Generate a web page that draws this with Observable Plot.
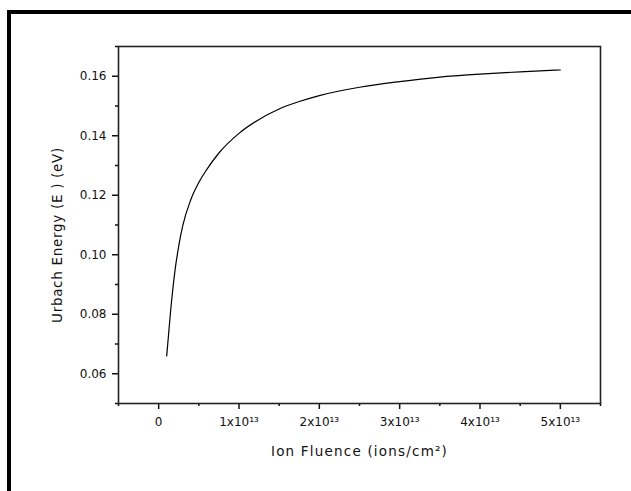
<!DOCTYPE html>
<html><head><meta charset="utf-8">
<script src="https://cdn.jsdelivr.net/npm/d3@7"></script>
<script src="https://cdn.jsdelivr.net/npm/@observablehq/plot@0.6"></script>
<style>
html,body{margin:0;padding:0;background:#fff;overflow:hidden;}
#wrap{position:relative;width:631px;height:491px;overflow:hidden;}
#border{position:absolute;left:7px;top:10px;width:700px;height:600px;border-left:4px solid #000;border-top:4px solid #000;pointer-events:none;}
</style></head><body>
<div id="wrap"><div id="chart"></div><div id="border"></div></div>
<script>
// Data (fluence in ions/cm², Urbach energy in eV)
const fluence = [0.1e13, 0.15e13, 0.2e13, 0.25e13, 0.3e13, 0.4e13, 0.5e13, 0.6e13, 0.75e13, 1.0e13, 1.25e13, 1.5e13, 1.75e13, 2.0e13, 2.5e13, 3.0e13, 3.5e13, 4.0e13, 4.5e13, 5.0e13];
const urbach  = [0.066, 0.0815, 0.0940, 0.1030, 0.1098, 0.1185, 0.1243, 0.1287, 0.1342, 0.1408, 0.1455, 0.1490, 0.1515, 0.1535, 0.1563, 0.1582, 0.1597, 0.1607, 0.1615, 0.1621];

const xMajorTicks = [0, 1e13, 2e13, 3e13, 4e13, 5e13];
const xMinorTicks = [-0.5e13, 0.5e13, 1.5e13, 2.5e13, 3.5e13, 4.5e13, 5.5e13];
const yMajorTicks = [0.06, 0.08, 0.10, 0.12, 0.14, 0.16];
const yMinorTicks = [0.05, 0.07, 0.09, 0.11, 0.13, 0.15, 0.17];
const xTitle = "Ion Fluence (ions/cm²)";
const yTitle = "Urbach Energy (E ) (eV)";

const data = fluence.map((x, i) => ({x, y: urbach[i]}));
const fmtX = d => d === 0 ? "0" : `${Math.round(d / 1e13)}x10¹³`;

const plot = Plot.plot({
  width: 631, height: 491,
  marginLeft: 118, marginRight: 31, marginTop: 46, marginBottom: 88,
  style: {fontFamily: "'DejaVu Sans', sans-serif", fontSize: "12px", color: "#111", background: "#fff"},
  x: {domain: [-0.5e13, 5.5e13]},
  y: {domain: [0.05, 0.17]},
  marks: [
    Plot.axisX({ticks: xMinorTicks, tickSize: 3, tickFormat: () => "", label: null, strokeWidth: 1.5}),
    Plot.axisX({ticks: xMajorTicks, tickSize: 6, tickPadding: 8, tickFormat: fmtX, label: null, strokeWidth: 1.5}),
    Plot.axisY({ticks: yMinorTicks, tickSize: 3, tickFormat: () => "", label: null, strokeWidth: 1.5}),
    Plot.axisY({ticks: yMajorTicks, tickSize: 6, tickPadding: 6, tickFormat: d3.format(".2f"), label: null, strokeWidth: 1.5}),
    Plot.frame({stroke: "#222", strokeWidth: 1.6}),
    Plot.line(data, {x: "x", y: "y", stroke: "#000", strokeWidth: 1.2, curve: "monotone-x"}),
    Plot.text([xTitle], {frameAnchor: "bottom", dy: 52, text: d => d, fontSize: 13.5, lineAnchor: "bottom", textAnchor: "middle", fill: "#111"}),
    Plot.text([yTitle], {frameAnchor: "left", dx: -61, dy: 10, rotate: -90, text: d => d, fontSize: 13.5, lineAnchor: "middle", textAnchor: "middle", fill: "#111"})
  ]
});
document.getElementById("chart").appendChild(plot);
d3.select(plot).selectAll("text").filter(function() { return this.textContent === xTitle; }).attr("letter-spacing", "1.2px");
d3.select(plot).selectAll("text").filter(function() { return this.textContent === yTitle; }).attr("letter-spacing", "0.7px");
</script>
</body></html>
